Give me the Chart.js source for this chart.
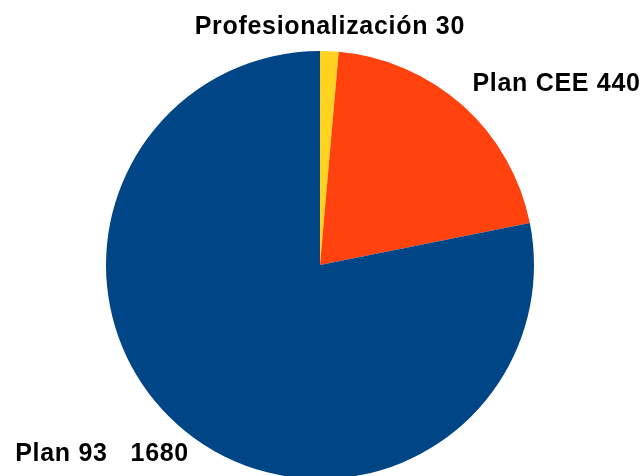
<!DOCTYPE html>
<html>
<head>
<meta charset="utf-8">
<script src="https://cdn.jsdelivr.net/npm/chart.js@4/dist/chart.umd.min.js"></script>
<style>
  html, body { margin: 0; padding: 0; background: #ffffff; }
  #wrap { width: 640px; height: 476px; }
</style>
</head>
<body>
<div id="wrap"><canvas id="myChart" width="640" height="476"></canvas></div>
<script>
// chart data
const categories = ['Profesionalización', 'Plan CEE', 'Plan 93'];
const values = [30, 440, 1680];
const labelTexts = ['Profesionalización 30', 'Plan CEE 440', 'Plan 93   1680'];
const colors = ['#FFD320', '#FF420E', '#004586'];

// draw the text labels just outside each slice
const outsideLabels = {
  id: 'outsideLabels',
  afterDatasetsDraw(chart) {
    const ctx = chart.ctx;
    const meta = chart.getDatasetMeta(0);
    ctx.save();
    ctx.font = 'bold 25px "Liberation Sans", Arial, sans-serif';
    ctx.letterSpacing = '0.7px';
    ctx.fillStyle = '#000000';
    ctx.textBaseline = 'alphabetic';
    meta.data.forEach(function (arc, i) {
      const p = arc.getProps(['x', 'y', 'startAngle', 'endAngle', 'outerRadius'], true);
      const mid = (p.startAngle + p.endAngle) / 2;
      const r = p.outerRadius + 10;
      const cx = Math.cos(mid);
      const sy = Math.sin(mid);
      let px = p.x + cx * r;
      let py = p.y + sy * r;
      if (cx > 0.2) {
        ctx.textAlign = 'left';
        px += 3;
      } else if (cx < -0.2) {
        ctx.textAlign = 'right';
        px += 11;
      } else {
        ctx.textAlign = 'center';
      }
      py += sy < 0 ? -7 : 23;
      ctx.fillText(labelTexts[i], px, py);
    });
    ctx.restore();
  }
};

const ctx = document.getElementById('myChart').getContext('2d');

const chart = new Chart(ctx, {
  type: 'pie',
  data: {
    labels: categories,
    datasets: [{
      data: values,
      backgroundColor: colors,
      borderWidth: 0,
      radius: 214
    }]
  },
  options: {
    responsive: false,
    animation: false,
    layout: { padding: { top: 54, bottom: 0, left: 0, right: 0 } },
    plugins: {
      legend: { display: false },
      tooltip: { enabled: false }
    }
  },
  plugins: [outsideLabels]
});
</script>
</body>
</html>
